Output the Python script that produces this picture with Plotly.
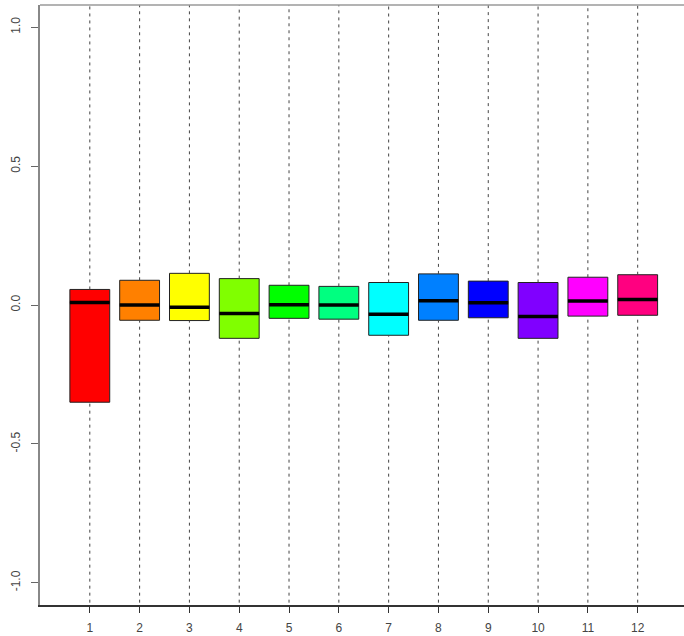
import plotly.graph_objects as go

categories = [str(i) for i in range(1, 13)]
q1 = [-0.35, -0.055, -0.056, -0.12, -0.048, -0.051, -0.109, -0.055, -0.046, -0.12, -0.04, -0.037]
median = [0.009, 0.0, -0.008, -0.031, 0.001, 0.0, -0.033, 0.015, 0.008, -0.041, 0.014, 0.02]
q3 = [0.056, 0.089, 0.114, 0.095, 0.071, 0.067, 0.081, 0.112, 0.086, 0.081, 0.1, 0.109]
whisker_low = [-1.5] * 12
whisker_high = [1.5] * 12
colors = ["#FF0000", "#FF8000", "#FFFF00", "#80FF00", "#00FF00", "#00FF80",
          "#00FFFF", "#0080FF", "#0000FF", "#8000FF", "#FF00FF", "#FF0080"]
y_ticks = [-1.0, -0.5, 0.0, 0.5, 1.0]

BOXW = 0.8
fig = go.Figure()
xs = list(range(1, 13))

# dashed whiskers
for i, x in enumerate(xs):
    fig.add_trace(go.Scatter(
        x=[x, x, None, x, x],
        y=[whisker_low[i], q1[i], None, q3[i], whisker_high[i]],
        mode="lines", line=dict(color="#444444", width=1, dash="3px,4px"),
        hoverinfo="skip", showlegend=False))

for i, x in enumerate(xs):
    fig.add_trace(go.Box(
        x=[x], q1=[q1[i]], median=[median[i]], q3=[q3[i]],
        lowerfence=[q1[i]], upperfence=[q3[i]],
        width=BOXW, whiskerwidth=0,
        fillcolor=colors[i], line=dict(color="#222222", width=1),
        showlegend=False))
    fig.add_trace(go.Scatter(
        x=[x - BOXW / 2, x + BOXW / 2], y=[median[i], median[i]],
        mode="lines", line=dict(color="#000000", width=3.5),
        hoverinfo="skip", showlegend=False))

fig.add_shape(type="line", xref="paper", yref="paper", x0=0, x1=1, y0=1, y1=1,
              line=dict(color="#9a9a9a", width=1.5))

fig.update_layout(
    width=684, height=636,
    margin=dict(l=40, r=0, t=5, b=31),
    paper_bgcolor="white", plot_bgcolor="white",
    font=dict(family="Liberation Sans, Arial, sans-serif", size=12, color="#444444"),
    xaxis=dict(range=[0, 12.93], tickmode="array", tickvals=xs, ticktext=categories,
               showgrid=False, zeroline=False, showline=True, linecolor="#333333",
               linewidth=1.5, ticks="outside", ticklen=6, tickcolor="#333333",
               ticklabelstandoff=5),
    yaxis=dict(range=[-1.08, 1.08], tickmode="array", tickvals=y_ticks,
               ticktext=["-1.0", "-0.5", "0.0", "0.5", "1.0"], tickangle=-90,
               showgrid=False, zeroline=False, showline=True, linecolor="#888888",
               linewidth=1.5, ticks="outside", ticklen=7, tickcolor="#666666",
               ticklabelstandoff=6),
)

fig.write_html("out.html")
